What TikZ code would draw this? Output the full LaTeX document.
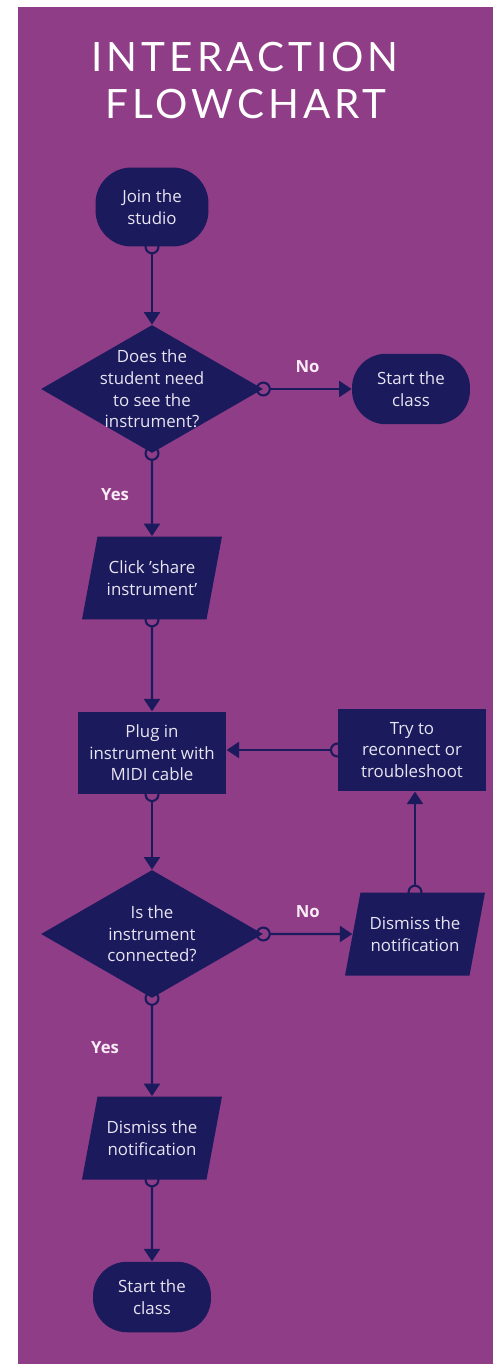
\documentclass[tikz,border=0pt]{standalone}
\usepackage{fontspec}
\setmainfont{Open Sans}
\newfontfamily\titlefont[LetterSpace=10]{Lato}
\usetikzlibrary{shapes.geometric,arrows.meta,backgrounds}

\definecolor{bgpurple}{RGB}{143,61,135}
\definecolor{boxnavy}{RGB}{27,26,92}
\definecolor{boxtext}{RGB}{232,228,242}
\definecolor{answertext}{RGB}{250,236,246}

\tikzset{
  flowtext/.style={text=boxtext, font=\fontsize{9.6}{12.3}\selectfont, align=center},
  terminal/.style={flowtext, fill=boxnavy, rounded corners=0.68cm, minimum width=2.36cm, minimum height=1.41cm},
  process/.style={flowtext, fill=boxnavy, minimum width=2.97cm, minimum height=1.65cm, inner sep=1pt},
  inout/.style={flowtext, fill=boxnavy, trapezium, trapezium left angle=71.5, trapezium right angle=108.5,
    trapezium stretches body, minimum width=2.8cm, minimum height=1.66cm, inner xsep=0pt},
  decision/.style={diamond, fill=boxnavy, minimum width=4.44cm, minimum height=2.56cm, inner sep=0pt},
  flowline/.style={draw=boxnavy, line width=1.2pt, shorten <=-0.15cm,
    {Circle[fill=bgpurple,length=0.3cm]}-{Triangle[width=0.32cm,length=0.25cm]}},
  answer/.style={text=answertext, inner sep=0pt, font=\bfseries\fontsize{9.5}{12}\selectfont},
  heading/.style={text=white, font=\titlefont\fontsize{23}{28}\selectfont}
}

\begin{document}
\begin{tikzpicture}[x=0.02cm, y=-0.02cm]
      \useasboundingbox (0,0) rectangle (496,1364);

      % Title
      \node[heading] (title1) at (245,57) {INTERACTION};
      \node[heading] (title2) at (246,104) {FLOWCHART};

      % Start
      \node[terminal, minimum width=2.26cm, minimum height=1.58cm, rounded corners=0.72cm] (join) at (152,207) {Join the\\studio};

      % Question: student needs to see the instrument?
      \node[decision, label={[flowtext]center:{Does the\\student need\\to see the\\instrument?}}] (seeq) at (152,389) {};
      \node[terminal] (starta) at (411,389) {Start the\\class};

      % Share and plug in
      \node[inout] (share) at (152,578) {Click 'share\\instrument'};
      \node[process] (plug) at (152,753) {Plug in\\instrument with\\MIDI cable};
      \node[process] (retry) at (412,750) {Try to\\reconnect or\\troubleshoot};

      % Question: instrument connected?
      \node[decision, label={[flowtext]center:{Is the\\instrument\\connected?}}] (connq) at (152,934) {};
      \node[inout] (dismissno) at (415,934) {Dismiss the\\notification};

      % End
      \node[inout] (dismissyes) at (152,1138) {Dismiss the\\notification};
      \node[terminal] (startb) at (152,1297) {Start the\\class};

      % Background and connectors
      \begin{pgfonlayer}{background}
        \fill[white] (0,0) rectangle (496,1364);
        \fill[bgpurple] (18,7) rectangle (493,1364);
        \draw[flowline] (join.south) -- (seeq.north);
        \draw[flowline] (seeq.east) -- (starta.west) node[answer, midway, above=0.3cm] (noa) {No};
        \draw[flowline] (seeq.south) -- (share.north) node[answer, midway, left=0.44cm] (yesa) {Yes};
        \draw[flowline] (share.south) -- (plug.north);
        \draw[flowline] (retry.west) -- (retry.west -| plug.east);
        \draw[flowline] (plug.south) -- (connq.north);
        \draw[flowline] (connq.east) -- (dismissno.west) node[answer, midway, above=0.3cm] (nob) {No};
        \draw[flowline] (dismissno.north) -- (dismissno.north |- retry.south);
        \draw[flowline] (connq.south) -- (dismissyes.north) node[answer, midway, left=0.64cm] (yesb) {Yes};
        \draw[flowline] (dismissyes.south) -- (startb.north);
      \end{pgfonlayer}
    \end{tikzpicture}
\end{document}
